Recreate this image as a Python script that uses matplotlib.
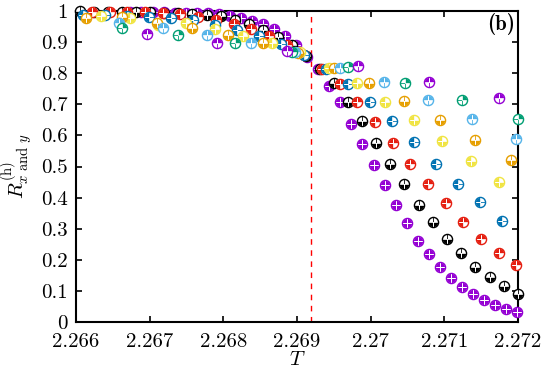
import numpy as np
import matplotlib.pyplot as plt
from matplotlib.path import Path

plt.rcParams['font.family'] = 'cmr10'
plt.rcParams['mathtext.fontset'] = 'cm'
plt.rcParams['axes.formatter.use_mathtext'] = True
plt.rcParams['font.size'] = 15
plt.rcParams['xtick.direction'] = 'in'
plt.rcParams['ytick.direction'] = 'in'
plt.rcParams['xtick.top'] = True
plt.rcParams['ytick.right'] = True
plt.rcParams['xtick.major.size'] = 4
plt.rcParams['ytick.major.size'] = 4
plt.rcParams['xtick.major.width'] = 1.2
plt.rcParams['ytick.major.width'] = 1.2

Tc = 2.269185

purple_T = [2.26674, 2.26689, 2.26704, 2.26719, 2.26734, 2.26749, 2.26764, 2.26779, 2.26794,
            2.26809, 2.26824, 2.26839, 2.26854, 2.26869, 2.26884, 2.26899, 2.26914, 2.26929,
            2.26944, 2.26959, 2.26974, 2.26989, 2.27004, 2.27019, 2.27034, 2.27049, 2.27064,
            2.27079, 2.27094, 2.27109, 2.27124, 2.27139, 2.27154, 2.27169, 2.27184, 2.27199]
purple_R = [0.997, 0.997, 0.997, 0.996, 0.995, 0.995, 0.994, 0.993, 0.990,
            0.985, 0.977, 0.969, 0.958, 0.941, 0.920, 0.891, 0.853, 0.814,
            0.759, 0.706, 0.637, 0.573, 0.505, 0.441, 0.377, 0.317, 0.261,
            0.218, 0.177, 0.141, 0.114, 0.089, 0.071, 0.055, 0.042, 0.031]

black_T = [2.26605, 2.26624, 2.26643, 2.26662, 2.26682, 2.26701, 2.26720, 2.26739, 2.26758,
           2.26778, 2.26797, 2.26816, 2.26835, 2.26854, 2.26874, 2.26893, 2.26912, 2.26931,
           2.26950, 2.26970, 2.26989, 2.27008, 2.27027, 2.27046, 2.27066, 2.27085, 2.27104,
           2.27123, 2.27142, 2.27162, 2.27181, 2.27200]
black_R = [0.999, 0.998, 0.998, 0.997, 0.997, 0.996, 0.995, 0.993, 0.990,
           0.987, 0.984, 0.970, 0.958, 0.939, 0.915, 0.891, 0.855, 0.815,
           0.768, 0.708, 0.645, 0.577, 0.508, 0.444, 0.377, 0.321, 0.266,
           0.221, 0.178, 0.144, 0.117, 0.091]

red_T = [2.26622, 2.26646, 2.26670, 2.26694, 2.26718, 2.26742, 2.26766, 2.26790, 2.26814,
         2.26838, 2.26862, 2.26886, 2.26910, 2.26934, 2.26958, 2.26982, 2.27006, 2.27030,
         2.27054, 2.27078, 2.27102, 2.27126, 2.27150, 2.27174, 2.27198]
red_R = [0.998, 0.997, 0.997, 0.996, 0.994, 0.990, 0.982, 0.970, 0.958,
         0.942, 0.920, 0.891, 0.858, 0.815, 0.764, 0.707, 0.644, 0.576,
         0.508, 0.444, 0.382, 0.321, 0.268, 0.223, 0.182]

blue_T = [2.26609, 2.26639, 2.26669, 2.26699, 2.26729, 2.26759, 2.26789, 2.26819, 2.26849,
          2.26879, 2.26909, 2.26939, 2.26969, 2.26999, 2.27029, 2.27059, 2.27089, 2.27119,
          2.27149, 2.27179]
blue_R = [0.988, 0.987, 0.985, 0.982, 0.977, 0.971, 0.955, 0.939, 0.920,
          0.894, 0.860, 0.815, 0.766, 0.708, 0.645, 0.578, 0.509, 0.445,
          0.385, 0.326]

yellow_T = [2.26634, 2.26673, 2.26711, 2.26750, 2.26789, 2.26827, 2.26866, 2.26904,
            2.26943, 2.26982, 2.27020, 2.27059, 2.27097, 2.27136, 2.27175]
yellow_R = [0.984, 0.977, 0.955, 0.960, 0.941, 0.920, 0.896, 0.868,
            0.817, 0.768, 0.706, 0.649, 0.582, 0.517, 0.449]

orange_T = [2.26614, 2.26662, 2.26710, 2.26758, 2.26806, 2.26854, 2.26902,
            2.26950, 2.26998, 2.27046, 2.27094, 2.27142, 2.27190]
orange_R = [0.976, 0.980, 0.960, 0.944, 0.923, 0.896, 0.866,
            0.817, 0.768, 0.712, 0.650, 0.584, 0.520]

lblue_T = [2.26658, 2.26718, 2.26778, 2.26838, 2.26898,
           2.26958, 2.27018, 2.27078, 2.27138, 2.27198]
lblue_R = [0.960, 0.944, 0.923, 0.898, 0.868,
           0.818, 0.771, 0.714, 0.652, 0.587]

green_T = [2.26662, 2.26739, 2.26816, 2.26893, 2.26970, 2.27047, 2.27124, 2.27200]
green_R = [0.944, 0.923, 0.898, 0.868, 0.820, 0.769, 0.714, 0.654]

purple2_T = [2.26696, 2.26791, 2.26887, 2.26983, 2.27079, 2.27175]
purple2_R = [0.925, 0.898, 0.870, 0.823, 0.773, 0.719]

xticks = [2.266, 2.267, 2.268, 2.269, 2.270, 2.271, 2.272]
xticklabels = ['2.266', '2.267', '2.268', '2.269', '2.27', '2.271', '2.272']
yticks = [0, 0.1, 0.2, 0.3, 0.4, 0.5, 0.6, 0.7, 0.8, 0.9, 1.0]
yticklabels = ['0', '0.1', '0.2', '0.3', '0.4', '0.5', '0.6', '0.7', '0.8', '0.9', '1']


def quad_marker(quads):
    # circle sectors, quadrant 1 = upper right, counter-clockwise
    verts, codes = [], []
    for q in quads:
        a = np.radians(np.linspace(90 * (q - 1), 90 * q, 12))
        verts += [(0, 0)] + list(zip(np.cos(a), np.sin(a))) + [(0, 0)]
        codes += [Path.MOVETO] + [Path.LINETO] * 12 + [Path.CLOSEPOLY]
    return Path(verts, codes)


series = [
    (purple_T, purple_R, '#9400D3', [1, 2, 3, 4]),
    (black_T, black_R, '#000000', [3, 4]),
    (red_T, red_R, '#E51E10', [1, 2, 3]),
    (blue_T, blue_R, '#0072B2', [2, 3]),
    (yellow_T, yellow_R, '#F0E442', [2, 3, 4]),
    (orange_T, orange_R, '#E69F00', [3, 4]),
    (lblue_T, lblue_R, '#56B4E9', [1, 2]),
    (green_T, green_R, '#009E73', [1]),
    (purple2_T, purple2_R, '#9400D3', [1, 2]),
]

fig = plt.figure(figsize=(5.44, 3.72), dpi=100)
ax = fig.add_axes([0.1395, 0.1344, 0.8125, 0.836])

ax.axvline(Tc, color='red', lw=1.0, ls=(0, (4, 4)), zorder=2)

ms = 7.3
for T, R, c, q in series:
    kw = dict(ls='none', ms=ms, clip_on=False, zorder=3)
    ax.plot(T, R, marker='o', mfc='white', mec='none', **kw)
    ax.plot(T, R, marker='+', mec=c, mew=0.6, **kw)
    ax.plot(T, R, marker=quad_marker(q), mfc=c, mec='white', mew=0.6, **kw)
    ax.plot(T, R, marker='o', mfc='none', mec=c, mew=1.0, **kw)

ax.set_xlim(2.266, 2.272)
ax.set_ylim(0, 1)
ax.set_xticks(xticks)
ax.set_xticklabels(xticklabels)
ax.set_yticks(yticks)
ax.set_yticklabels(yticklabels)
ax.tick_params(axis='x', pad=8)
ax.tick_params(axis='y', pad=6)
for s in ax.spines.values():
    s.set_linewidth(1.5)

ax.set_xlabel(r'$T$', labelpad=0)
ax.set_ylabel(r'$R^{(\mathrm{h})}_{x\ \mathrm{and}\ y}$', labelpad=4)
ax.text(0.993, 0.958, '(b)', transform=ax.transAxes, ha='right', va='center',
        fontfamily='cmb10', fontsize=15)

fig.savefig('out.png', dpi=100)
